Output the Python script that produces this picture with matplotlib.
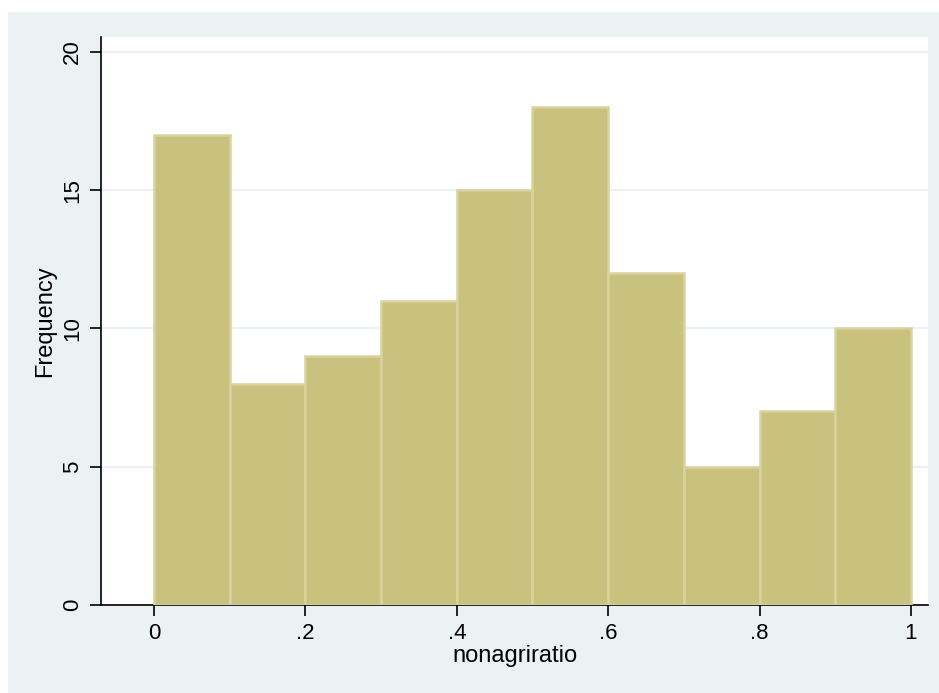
import matplotlib
matplotlib.use('Agg')
from matplotlib import pyplot as plt
from matplotlib.patches import Rectangle

plt.rcParams['font.family'] = ['Liberation Sans', 'DejaVu Sans']

# histogram of nonagriratio, 10 bins of width .1
bin_left = [0.0, 0.1, 0.2, 0.3, 0.4, 0.5, 0.6, 0.7, 0.8, 0.9]
counts = [17, 8, 9, 11, 15, 18, 12, 5, 7, 10]
bin_width = 0.1
x_ticks = [0, 0.2, 0.4, 0.6, 0.8, 1.0]
x_labels = ['0', '.2', '.4', '.6', '.8', '1']
y_ticks = [0, 5, 10, 15, 20]

W, H = 939, 693
fig = plt.figure(figsize=(W / 100, H / 100), dpi=100)
fig.patch.set_facecolor('white')
# stata-like graph region
fig.patches.append(Rectangle((8 / W, 0), 1, 1 - 12 / H, transform=fig.transFigure,
                             facecolor='#EAF2F3', edgecolor='none', zorder=-10))

ax = fig.add_axes([101 / W, (H - 605) / H, (928 - 101) / W, (605 - 37) / H])
ax.set_zorder(5)
ax.set_facecolor('white')

ax.bar(bin_left, counts, width=bin_width, align='edge', color='#C9C27F',
       edgecolor='#D8D39E', linewidth=1.8, zorder=3)

ax.set_xlim(-0.070, 1.0225)
ax.set_ylim(0, 20.54)

ax.set_yticks(y_ticks)
ax.set_yticklabels([str(v) for v in y_ticks], rotation=90, va='center')
ax.set_xticks(x_ticks)
ax.set_xticklabels(x_labels)
ax.tick_params(axis='both', labelsize=16, length=8, width=1.2, color='black')
ax.tick_params(axis='y', pad=5)
ax.tick_params(axis='x', pad=5)

for v in y_ticks[1:]:
    ax.axhline(v, color='#EAF2F3', linewidth=1.6, zorder=1)

for s in ['top', 'right']:
    ax.spines[s].set_visible(False)
ax.spines['left'].set_linewidth(1.2)
ax.spines['bottom'].set_linewidth(1.2)

ax.set_xlabel('nonagriratio', fontsize=17, labelpad=1)
ax.set_ylabel('Frequency', fontsize=17, labelpad=4)

fig.savefig('out.png', dpi=100, facecolor=fig.get_facecolor())
